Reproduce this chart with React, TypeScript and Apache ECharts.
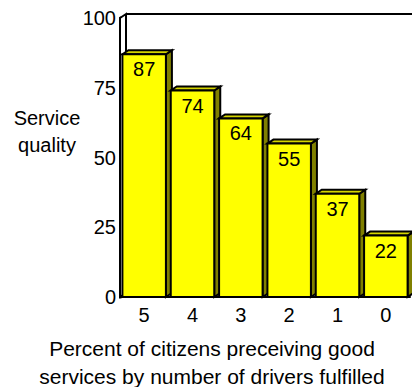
import React, { useEffect, useRef } from "react";
import * as echarts from "echarts";

const categories = ["5", "4", "3", "2", "1", "0"];
const values = [87, 74, 64, 55, 37, 22];
const yMin = 0;
const yMax = 100;
const yInterval = 25;
const yTitleLines = ["Service", "quality"];
const xTitleLines = [
  "Percent of citizens preceiving good",
  "services by number of drivers fulfilled",
];

const FONT = "'Liberation Sans', Arial, Helvetica, sans-serif";
const DX = 6;
const DY = 4;

export default function App() {
  const ref = useRef<HTMLDivElement>(null);
  useEffect(() => {
    if (!ref.current) return;
    const chart = echarts.init(ref.current, undefined, { renderer: "svg" });
    const option: any = {
      animation: false,
      backgroundColor: "#ffffff",
      grid: { left: 120, right: 2, top: 18, bottom: 90, containLabel: false },
      xAxis: {
        type: "category",
        data: categories,
        axisLine: { show: true, lineStyle: { color: "#000", width: 2 } },
        axisTick: { show: false },
        axisLabel: { color: "#000", fontSize: 20, fontFamily: FONT, margin: 8 },
        splitLine: { show: false },
      },
      yAxis: {
        type: "value",
        min: yMin,
        max: yMax,
        interval: yInterval,
        axisLine: { show: true, lineStyle: { color: "#000", width: 3 } },
        axisTick: { show: false },
        axisLabel: { color: "#000", fontSize: 20, fontFamily: FONT, margin: 4 },
        splitLine: { show: false },
      },
      graphic: [
        {
          type: "text",
          x: 47,
          y: 104,
          style: {
            text: yTitleLines.join("\n"),
            fill: "#000",
            font: `20px ${FONT}`,
            lineHeight: 27,
            align: "center",
            verticalAlign: "top",
          },
        },
        {
          type: "text",
          x: 212,
          y: 334,
          style: {
            text: xTitleLines.join("\n"),
            fill: "#000",
            font: `21px ${FONT}`,
            lineHeight: 28,
            align: "center",
          },
        },
      ],
      series: [
        {
          type: "custom",
          z: 1,
          silent: true,
          data: [[0, 0]],
          renderItem: (params: any) => {
            const cs = params.coordSys;
            const x = cs.x;
            const y = cs.y;
            const b = cs.y + cs.height;
            const r = cs.x + cs.width;
            const st = { stroke: "#000", lineWidth: 2, fill: "none" };
            return {
              type: "group",
              children: [
                { type: "polygon", shape: { points: [[x, y], [x + DX, y - DY], [x + DX, b - DY], [x, b]] }, style: { fill: "#fff", stroke: "#000", lineWidth: 2 } },
                { type: "line", shape: { x1: x + DX, y1: y - DY, x2: r + DX, y2: y - DY }, style: st },
              ],
            };
          },
        },
        {
          type: "custom",
          z: 3,
          data: values.map((v, i) => [i, v]),
          renderItem: (params: any, api: any) => {
            const idx = api.value(0);
            const val = api.value(1);
            const top = api.coord([idx, val]);
            const base = api.coord([idx, 0]);
            const band = api.size([1, 0])[0];
            const w = band * 0.9;
            const x0 = top[0] - w / 2;
            const x1 = top[0] + w / 2;
            const yT = top[1];
            const yB = base[1];
            const border = { stroke: "#000", lineWidth: 2, lineJoin: "miter" };
            return {
              type: "group",
              children: [
                {
                  type: "polygon",
                  shape: { points: [[x1, yT], [x1 + DX, yT - DY], [x1 + DX, yB - DY], [x1, yB]] },
                  style: { fill: "#808000", ...border },
                },
                {
                  type: "polygon",
                  shape: { points: [[x0, yT], [x0 + DX, yT - DY], [x1 + DX, yT - DY], [x1, yT]] },
                  style: { fill: "#d4d400", ...border },
                },
                {
                  type: "rect",
                  shape: { x: x0, y: yT, width: w, height: yB - yT },
                  style: { fill: "#ffff00", ...border },
                },
                {
                  type: "text",
                  x: top[0],
                  y: yT + 15,
                  style: {
                    text: String(val),
                    fill: "#000",
                    font: `20px ${FONT}`,
                    align: "center",
                    verticalAlign: "middle",
                  },
                },
              ],
            };
          },
        },
      ],
    };
    chart.setOption(option);
    return () => chart.dispose();
  }, []);
  return (
    <div
      ref={ref}
      style={{ position: "fixed", left: 0, top: 0, width: 412, height: 387 }}
    />
  );
}
